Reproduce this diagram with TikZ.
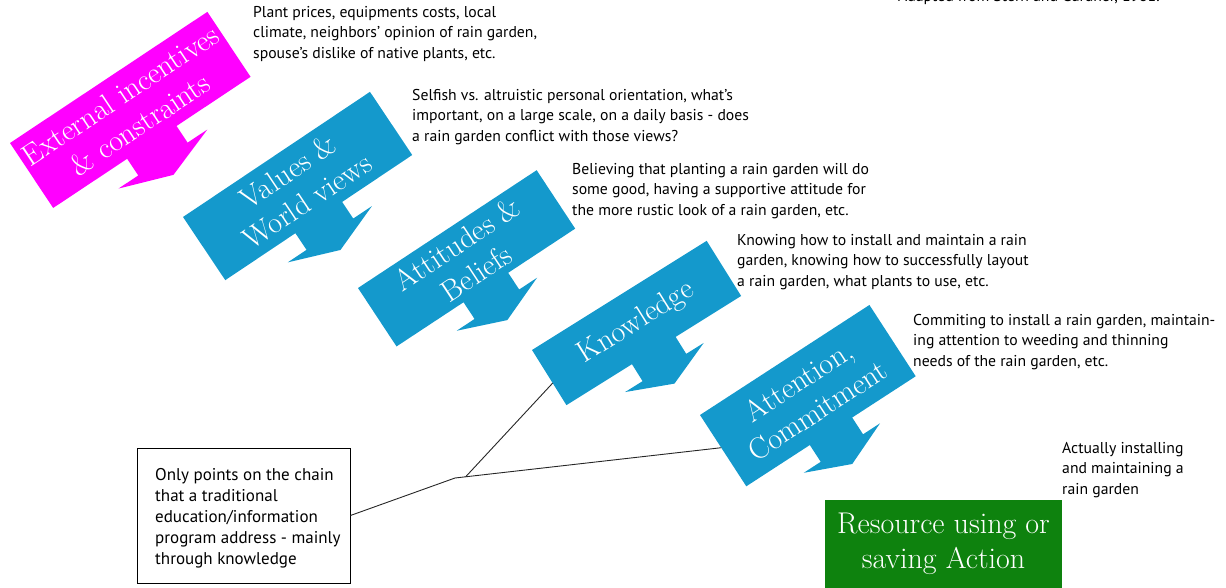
\documentclass[tikz,border=0pt]{standalone}
\usepackage{fontspec}
\usetikzlibrary{calc}
\newfontfamily\descfont{PT Sans}
\definecolor{magC}{RGB}{255,0,255}
\definecolor{blueC}{RGB}{20,153,204}
\definecolor{greenC}{RGB}{14,130,14}
% callout shape: L, H, colour ; drawn in local frame (u right, v down)
\newcommand\callshape[3]{%
  \fill[#3] (0,0) -- (#1,0) -- (#1,#2)
    -- ({#1/2+0.125*#1},#2) -- ({#1/2+0.125*#1},{#2+20})
    -- ({#1/2+0.225*#1},{#2+20}) -- ({#1/2},{#2+39})
    -- ({#1/2-0.225*#1},{#2+20}) -- ({#1/2-0.125*#1},{#2+20})
    -- ({#1/2-0.125*#1},#2) -- (0,#2) -- cycle;}
\tikzset{
  lbl/.style={text=white, font=\rmfamily\fontsize{30}{35}\selectfont, align=center, inner sep=0pt, transform shape},
  desc/.style={font=\descfont\fontsize{15.7}{20.5}\selectfont, align=left, anchor=north west, inner sep=0pt, text=black},
  notetxt/.style={desc, font=\descfont\fontsize{17}{21}\selectfont},
  notebox/.style={draw=black, line width=0.9pt, minimum width=213pt, minimum height=135pt, inner sep=0pt},
  conn/.style={draw=black!85, line width=0.9pt},
}
\begin{document}
\begin{tikzpicture}[x=1pt,y=-1pt]
\useasboundingbox (0,0) rectangle (1226,588);
\clip (0,0) rectangle (1226,588);

% credit line, cut off at the top
\node[desc, anchor=base west] (credit) at (898,1.5) {Adapted from Stern and Gardner, 1981.};

% External incentives
\begin{scope}[shift={(10,143)}, rotate=33.6]
  \callshape{237}{78}{magC}
  \node[lbl] (ext) at (118.5,39) {External incentives\\\& constraints};
\end{scope}
% Values
\begin{scope}[shift={(183,217)}, rotate=33.8]
  \callshape{225}{76}{blueC}
  \node[lbl] (val) at (112.5,38) {Values \&\\World views};
\end{scope}
% Attitudes
\begin{scope}[shift={(358,288)}, rotate=33.4]
  \callshape{214}{70}{blueC}
  \node[lbl] (att) at (107,35) {Attitudes \&\\Beliefs};
\end{scope}
% Knowledge
\begin{scope}[shift={(532,350)}, rotate=32]
  \callshape{206}{65}{blueC}
  \node[lbl] (know) at (103,32.5) {Knowledge};
  \coordinate (knowL) at (0,39);
\end{scope}
% Attention
\begin{scope}[shift={(700,415)}, rotate=33]
  \callshape{202}{85}{blueC}
  \node[lbl] (attn) at (101,42.5) {Attention,\\Commitment};
  \coordinate (attnL) at (0,39);
\end{scope}

% action box
\node[fill=greenC, minimum width=237pt, minimum height=95pt, inner sep=0pt, anchor=north west] (act) at (825,500) {};
\node[lbl, transform shape=false] (acttext) at (943.5,544) {Resource using or\\saving Action};

% descriptions
\node[desc] (d1) at (253,6) {Plant prices, equipments costs, local\\climate, neighbors’ opinion of rain garden,\\spouse’s dislike of native plants, etc.};
\node[desc] (d2) at (412,89) {Selfish vs. altruistic personal orientation, what’s\\important, on a large scale, on a daily basis - does\\a rain garden conflict with those views?};
\node[desc] (d3) at (572,163) {Believing that planting a rain garden will do\\some good, having a supportive attitude for\\the more rustic look of a rain garden, etc.};
\node[desc] (d4) at (737,234) {Knowing how to install and maintain a rain\\garden, knowing how to successfully layout\\a rain garden, what plants to use, etc.};
\node[desc] (d5) at (913,314) {Commiting to install a rain garden, maintain-\\ing attention to weeding and thinning\\needs of the rain garden, etc.};
\node[desc] (d6) at (1062,442) {Actually installing\\and maintaining a\\rain garden};

% note box
\node[notebox] (note) at (243.5,515.5) {};
\node[notetxt] (notetext) at (155,468) {Only points on the chain\\that a traditional\\education/information\\program address - mainly\\through knowledge};

% connectors
\coordinate (J) at (455,478);
\draw[conn] (note.east) -- (J) -- (attnL);
\draw[conn] ($(J)!0.04!(attnL)$) -- (knowL);
\end{tikzpicture}
\end{document}
